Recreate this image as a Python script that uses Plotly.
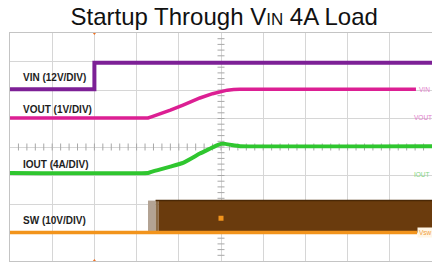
import numpy as np
import plotly.graph_objects as go

# ---- data (time and amplitude in scope divisions) ----
vin_t = [0.0, 2.0, 2.0, 10.0]
vin_v = [6.03, 6.03, 6.96, 6.96]

vout_t = [0.0, 3.27, 3.35, 3.5, 3.8, 4.1, 4.5, 4.8, 5.0, 5.15, 5.3, 5.45, 9.62]
vout_v = [5.02, 5.02, 5.06, 5.13, 5.29, 5.47, 5.72, 5.87, 5.95, 5.995, 6.02, 6.03, 6.03]

iout_t = [0.0, 3.27, 3.35, 3.5, 3.8, 4.1, 4.5, 4.75, 4.9, 5.0, 5.1, 5.25, 5.45, 10.0]
iout_v = [3.09, 3.09, 3.13, 3.19, 3.31, 3.44, 3.77, 3.95, 4.06, 4.11, 4.11, 4.07, 4.03, 4.03]

sw_low_t = [0.0, 9.65]
sw_low_v = [1.0, 1.0]
sw_phase_t = [3.27, 3.45, 3.52, 10.0]
sw_phase_colors = ["#b3a394", "#8c6c48", "#6a3b0d"]
sw_high = 2.12
sw_low = 1.0

left_labels = ["VIN (12V/DIV)", "VOUT (1V/DIV)", "IOUT (4A/DIV)", "SW (10V/DIV)"]
left_label_y = [6.43, 5.30, 3.40, 1.41]
right_labels = ["VIN", "VOUT", "IOUT"]
right_label_x = [9.64, 9.53, 9.53]
right_label_y = [6.03, 5.05, 3.02]
right_label_colors = ["#e27ccb", "#e27ccb", "#7fd67f"]

trig_t = 2.0
cursor_t, cursor_v = 5.0, 1.5

fig = go.Figure()

# center graticule ticks
tick_y = np.round(np.arange(0.2, 8.0, 0.2), 2)
tick_x = np.round(np.arange(0.2, 10.0, 0.2), 2)
fig.add_trace(go.Scatter(x=[5.0] * len(tick_y), y=tick_y, mode="markers",
                         marker=dict(symbol="line-ew", size=5, line=dict(width=1, color="#a8a8a8")),
                         hoverinfo="skip", showlegend=False))
fig.add_trace(go.Scatter(x=tick_x, y=[4.0] * len(tick_x), mode="markers",
                         marker=dict(symbol="line-ns", size=5, line=dict(width=1, color="#a8a8a8")),
                         hoverinfo="skip", showlegend=False))

# SW switching band
for i, c in enumerate(sw_phase_colors):
    x0, x1 = sw_phase_t[i], sw_phase_t[i + 1]
    fig.add_trace(go.Scatter(x=[x0, x1, x1, x0, x0], y=[sw_low, sw_low, sw_high, sw_high, sw_low],
                             mode="lines", fill="toself", fillcolor=c,
                             line=dict(width=0, color=c), hoverinfo="skip", showlegend=False))
fig.add_trace(go.Scatter(x=[sw_phase_t[1], sw_phase_t[-1]], y=[sw_high, sw_high], mode="lines",
                         line=dict(width=1.5, color="#4a2806"), hoverinfo="skip", showlegend=False))
# SW low level
fig.add_trace(go.Scatter(x=sw_low_t, y=sw_low_v, mode="lines",
                         line=dict(width=3.5, color="#f2941c"), showlegend=False))

# IOUT, VOUT, VIN
fig.add_trace(go.Scatter(x=iout_t, y=iout_v, mode="lines",
                         line=dict(width=4, color="#2fc62f", shape="spline", smoothing=0.3),
                         showlegend=False))
fig.add_trace(go.Scatter(x=vout_t, y=vout_v, mode="lines",
                         line=dict(width=3.5, color="#dc1f93"), showlegend=False))
fig.add_trace(go.Scatter(x=vin_t, y=vin_v, mode="lines",
                         line=dict(width=4, color="#7d2096"), showlegend=False))

# cursor marker and trigger markers
fig.add_trace(go.Scatter(x=[cursor_t], y=[cursor_v], mode="markers",
                         marker=dict(symbol="square", size=5, color="#f2941c"),
                         showlegend=False))
fig.add_trace(go.Scatter(x=[trig_t, trig_t], y=[8.0, 0.0], mode="markers", cliponaxis=False,
                         marker=dict(symbol=["triangle-down", "triangle-up"], size=4, color="#f07020"),
                         showlegend=False))

for txt, yv in zip(left_labels, left_label_y):
    fig.add_annotation(x=0.26, y=yv, text="<b>" + txt + "</b>", showarrow=False,
                       xanchor="left", yanchor="middle",
                       font=dict(family="Liberation Sans, Arial", size=10, color="#1e1e1e"))
for txt, xv, yv, c in zip(right_labels, right_label_x, right_label_y, right_label_colors):
    fig.add_annotation(x=xv, y=yv, text=txt, showarrow=False, xanchor="left", yanchor="middle",
                       font=dict(family="Liberation Sans, Arial", size=6.5, color=c))
fig.add_annotation(x=9.64, y=1.0, text="Vsw", showarrow=False, xanchor="left", yanchor="middle",
                   bgcolor="#fff6e6", borderpad=1,
                   font=dict(family="Liberation Sans, Arial", size=6.5, color="#f0a040"))

fig.update_layout(
    width=432, height=263,
    margin=dict(l=10, r=0, t=33, b=2),
    paper_bgcolor="white", plot_bgcolor="white",
    title=dict(text="Startup Through V<span style='font-size:17px'>IN</span> 4A Load",
               x=0.519, xanchor="center", y=0.935, yanchor="middle",
               font=dict(family="Liberation Sans, Arial", size=24, color="#111111")),
    xaxis=dict(range=[0, 10], dtick=1, showticklabels=False, ticks="", showgrid=True,
               gridcolor="#d6d6d6", gridwidth=1, zeroline=False,
               showline=True, mirror=True, linecolor="#c4c4c4", linewidth=1),
    yaxis=dict(range=[0, 8], dtick=1, showticklabels=False, ticks="", showgrid=True,
               gridcolor="#d6d6d6", gridwidth=1, zeroline=False,
               showline=True, mirror=True, linecolor="#c4c4c4", linewidth=1),
)

fig.write_html("out.html", config={"displayModeBar": False},
               post_script="document.body.style.margin='0';document.body.style.overflow='hidden';")
